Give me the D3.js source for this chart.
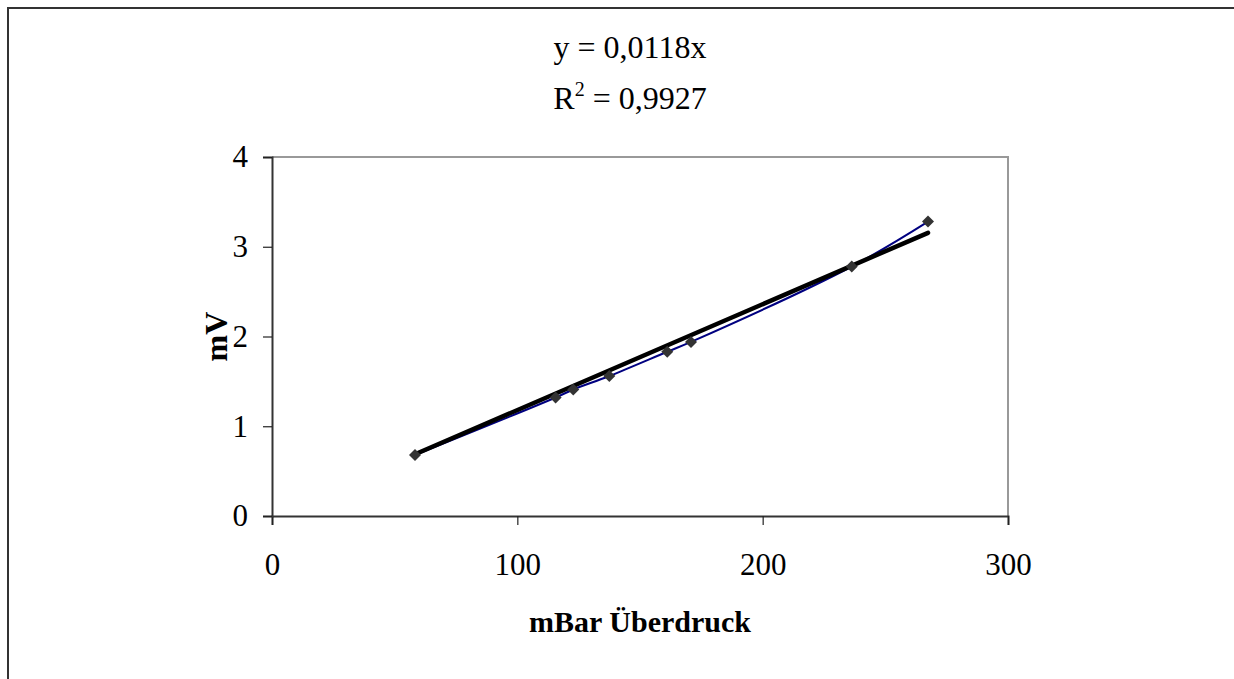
<!DOCTYPE html>
<html>
<head>
<meta charset="utf-8">
<script src="https://cdn.jsdelivr.net/npm/d3@7"></script>
<style>
  body { margin: 0; background: #fff; }
  svg text { font-family: "Liberation Serif", "Times New Roman", serif; fill: #000; }
</style>
</head>
<body>
<div id="chart"></div>
<script>
// measured points: pressure (mBar) vs. sensor output (mV)
var pressure = [58.3, 115.6, 122.8, 137.5, 161.1, 170.8, 236.3, 267.4];
var voltage = [0.68, 1.32, 1.41, 1.56, 1.83, 1.94, 2.78, 3.28];

var slope = 0.0118;
var rSquared = 0.9927;

var xTicks = [0, 100, 200, 300];
var yTicks = [0, 1, 2, 3, 4];

var width = 1234,
  height = 679;

var plot = { left: 272, right: 1008, top: 157, bottom: 516 };

var de = d3.formatLocale({ decimal: ",", thousands: ".", grouping: [3], currency: ["", " €"] });

var svg = d3
  .select("#chart")
  .append("svg")
  .attr("width", width)
  .attr("height", height);

// outer chart frame (runs off the page on the right / bottom)
svg
  .append("rect")
  .attr("x", 8)
  .attr("y", 8)
  .attr("width", 1400)
  .attr("height", 900)
  .attr("fill", "none")
  .attr("stroke", "#333")
  .attr("stroke-width", 2);

var x = d3.scaleLinear().domain([0, 300]).range([plot.left, plot.right]);
var y = d3.scaleLinear().domain([0, 4]).range([plot.bottom, plot.top]);

// plot area border: gray top / right
svg
  .append("path")
  .attr("d", "M" + plot.left + "," + plot.top + "H" + plot.right + "V" + plot.bottom)
  .attr("fill", "none")
  .attr("stroke", "#999")
  .attr("stroke-width", 2);

var xAxis = svg
  .append("g")
  .attr("transform", "translate(0," + plot.bottom + ")")
  .call(d3.axisBottom(x).tickValues(xTicks).tickSize(9).tickPadding(28).tickFormat(d3.format("d")));

var yAxis = svg
  .append("g")
  .attr("transform", "translate(" + plot.left + ",0)")
  .call(d3.axisLeft(y).tickValues(yTicks).tickSize(9).tickPadding(15).tickFormat(d3.format("d")));

[xAxis, yAxis].forEach(function(ax) {
  ax.select(".domain").attr("stroke", "#333").attr("stroke-width", 2);
  ax.selectAll(".tick line").attr("stroke", "#222").attr("stroke-width", 1.2);
  ax.selectAll(".tick text")
    .attr("font-size", "31px")
    .attr("fill", "#000");
});

var points = pressure.map(function(p, i) {
  return { x: p, y: voltage[i] };
});

// smoothed line through the measurements
var line = d3
  .line()
  .x(function(d) { return x(d.x); })
  .y(function(d) { return y(d.y); })
  .curve(d3.curveCatmullRom.alpha(0.5));

svg
  .append("path")
  .datum(points)
  .attr("d", line)
  .attr("fill", "none")
  .attr("stroke", "#000080")
  .attr("stroke-width", 2);

// linear trend through origin
var xExtent = d3.extent(pressure);
var trend = xExtent.map(function(p) {
  return { x: p, y: slope * p };
});

svg
  .append("path")
  .datum(trend)
  .attr("d", d3.line().x(function(d) { return x(d.x); }).y(function(d) { return y(d.y); }))
  .attr("fill", "none")
  .attr("stroke", "#000")
  .attr("stroke-width", 4.5)
  .attr("stroke-linecap", "round");

// diamond markers
svg
  .selectAll(".marker")
  .data(points)
  .enter()
  .append("path")
  .attr("class", "marker")
  .attr("d", d3.symbol().type(d3.symbolSquare).size(72))
  .attr("transform", function(d) {
    return "translate(" + x(d.x) + "," + y(d.y) + ") rotate(45)";
  })
  .attr("fill", "#333");

// trendline equation
var eq = svg.append("g").attr("font-size", "32px");
eq.append("text")
  .attr("x", 630)
  .attr("y", 58)
  .attr("text-anchor", "middle")
  .text("y = " + de.format(".4f")(slope) + "x");

var r2 = eq.append("text")
  .attr("x", 630)
  .attr("y", 109)
  .attr("text-anchor", "middle");
r2.append("tspan").text("R");
r2.append("tspan").attr("dy", -13).attr("font-size", "20px").text("2");
r2.append("tspan").attr("dy", 13).text(" = " + de.format(".4f")(rSquared));

// axis titles
svg
  .append("text")
  .attr("x", (plot.left + plot.right) / 2)
  .attr("y", 632)
  .attr("text-anchor", "middle")
  .attr("font-size", "30px")
  .attr("font-weight", "bold")
  .text("mBar Überdruck");

svg
  .append("text")
  .attr("transform", "translate(227," + (plot.top + plot.bottom) / 2 + ") rotate(-90)")
  .attr("text-anchor", "middle")
  .attr("font-size", "32px")
  .attr("font-weight", "bold")
  .text("mV");
</script>
</body>
</html>
